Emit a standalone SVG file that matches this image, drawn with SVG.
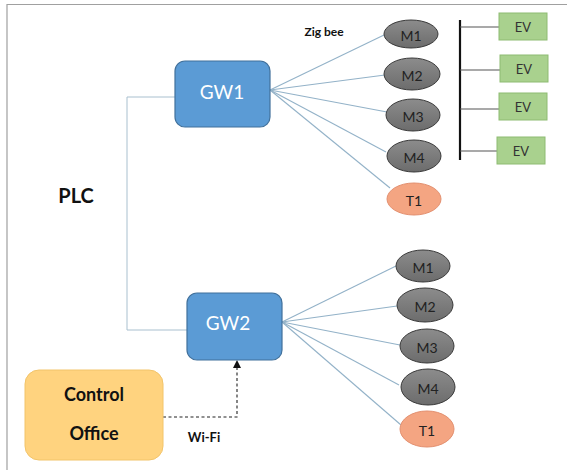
<svg xmlns="http://www.w3.org/2000/svg" width="567" height="474" viewBox="0 0 567 474">
<style>
.t{font-family:Lato,"Open Sans","Liberation Sans",sans-serif;text-anchor:middle;dominant-baseline:central}
.gw{fill:#5B9BD5;stroke:#41719C;stroke-width:1.2}
.gwt{fill:#fff;font-size:19px}
.m{fill:url(#mg);stroke:#3a3a3a;stroke-width:1}
.mt{fill:#222;font-size:14px}
.tn{fill:#F4A582;stroke:#E39070;stroke-width:1}
.ev{fill:#A9D18E;stroke:#8EBB72;stroke-width:1}
.evt{fill:#333;font-size:13px}
.zl{stroke:#93B2C8;stroke-width:1.1;fill:none}
.b{font-weight:bold;fill:#111}
</style>
<defs>
<linearGradient id="mg" x1="0" y1="0" x2="0" y2="1">
<stop offset="0" stop-color="#8c8c8c"/><stop offset="1" stop-color="#6c6c6c"/>
</linearGradient>
<marker id="ah" markerWidth="8" markerHeight="8" refX="4" refY="4" orient="auto" markerUnits="userSpaceOnUse">
<path d="M0,0 L8,4 L0,8 z" fill="#111"/>
</marker>
</defs>
<rect width="567" height="474" fill="#fff"/>
<g id="frame" stroke="#a0a0a0" stroke-width="1.2" fill="none">
<path d="M7,470 V4.5 H567"/>
</g>
<g id="connectors">
<path d="M175,97 H127 V330 H187" stroke="#A9C0CF" stroke-width="1" fill="none"/>
<g class="zl">
<path d="M270,90 L384,35"/><path d="M270,90 L385,75"/><path d="M270,90 L387,112"/><path d="M270,90 L386,152"/><path d="M270,90 L390,188"/>
<path d="M282,322 L396,266"/><path d="M282,322 L397,306"/><path d="M282,322 L400,345"/><path d="M282,322 L399,385"/><path d="M282,322 L401,425"/>
</g>
<g stroke="#111" fill="none">
<path d="M460,20 V160" stroke-width="2.2"/>
<g stroke="#555" stroke-width="1.2"><path d="M460,27 H499"/><path d="M460,70 H500"/><path d="M460,109 H499"/><path d="M460,151 H497"/></g>
</g>
<path d="M163,417 H237 V364" stroke="#222" stroke-width="1.1" stroke-dasharray="3,2.5" fill="none" marker-end="url(#ah)"/>
</g>
<g id="GW1"><rect class="gw" x="175" y="61" width="95" height="66" rx="10"/><text class="t gwt" x="222" y="91">GW1</text></g>
<g id="GW2"><rect class="gw" x="187" y="293" width="95" height="67" rx="10"/><text class="t gwt" x="228" y="322">GW2</text></g>
<g id="g1M1"><ellipse class="m" cx="411" cy="34" rx="27" ry="14"/><text class="t mt" x="411" y="35">M1</text></g>
<g id="g1M2"><ellipse class="m" cx="412" cy="74" rx="28" ry="16"/><text class="t mt" x="412" y="75">M2</text></g>
<g id="g1M3"><ellipse class="m" cx="413" cy="115" rx="27" ry="16"/><text class="t mt" x="413" y="116">M3</text></g>
<g id="g1M4"><ellipse class="m" cx="414" cy="156" rx="27" ry="16"/><text class="t mt" x="414" y="157">M4</text></g>
<g id="g1T1"><ellipse class="tn" cx="414" cy="199" rx="27" ry="16"/><text class="t mt" x="414" y="200">T1</text></g>
<g id="g2M1"><ellipse class="m" cx="423" cy="266" rx="27" ry="16"/><text class="t mt" x="423" y="267">M1</text></g>
<g id="g2M2"><ellipse class="m" cx="425" cy="305" rx="28" ry="17"/><text class="t mt" x="425" y="306">M2</text></g>
<g id="g2M3"><ellipse class="m" cx="427" cy="346" rx="27" ry="17"/><text class="t mt" x="427" y="347">M3</text></g>
<g id="g2M4"><ellipse class="m" cx="428" cy="387" rx="27" ry="18"/><text class="t mt" x="428" y="388">M4</text></g>
<g id="g2T1"><ellipse class="tn" cx="427" cy="429" rx="27" ry="18"/><text class="t mt" x="427" y="430">T1</text></g>
<g id="EV1"><rect class="ev" x="499" y="13" width="48" height="27"/><text class="t evt" x="523" y="27">EV</text></g>
<g id="EV2"><rect class="ev" x="500" y="55" width="48" height="27"/><text class="t evt" x="524" y="69">EV</text></g>
<g id="EV3"><rect class="ev" x="499" y="93" width="48" height="27"/><text class="t evt" x="523" y="107">EV</text></g>
<g id="EV4"><rect class="ev" x="497" y="137" width="48" height="27"/><text class="t evt" x="521" y="151">EV</text></g>
<g id="control"><rect x="25" y="370" width="138" height="90" rx="14" fill="#FFD37F" stroke="#F2C46A" stroke-width="1"/>
<text class="t b" x="94" y="394" font-size="18">Control</text><text class="t b" x="94" y="433" font-size="18">Office</text></g>
<text class="t b" x="76" y="195" font-size="20">PLC</text>
<text class="t b" x="324" y="31" font-size="12">Zig bee</text>
<text class="t b" x="204" y="437" font-size="13">Wi-Fi</text>
</svg>
